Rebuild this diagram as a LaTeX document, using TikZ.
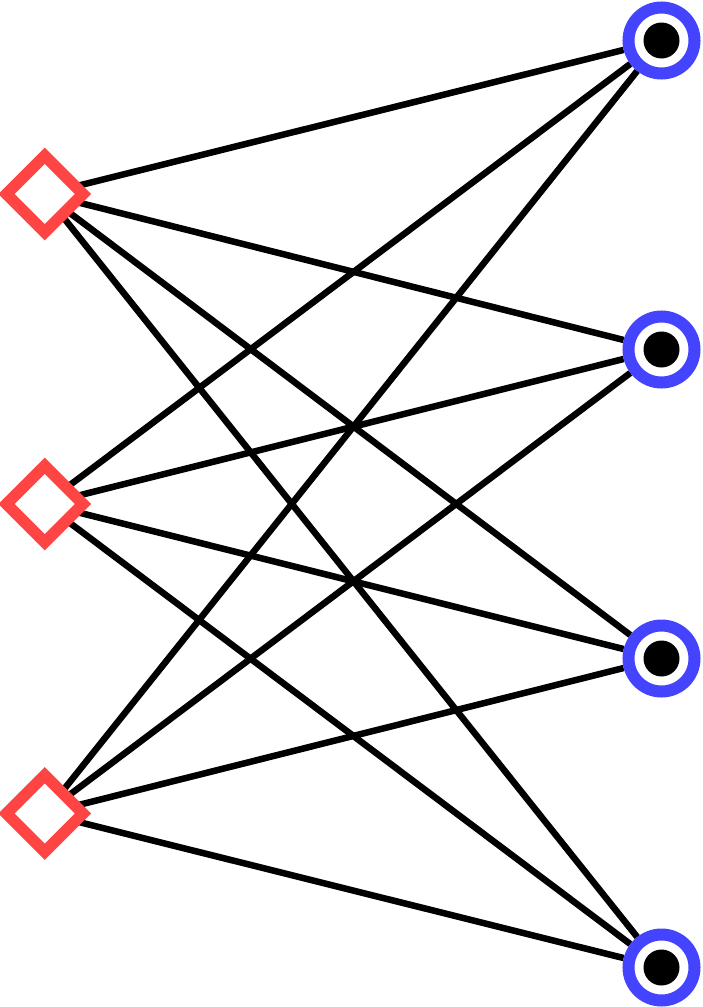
\documentclass[tikz,border=0pt]{standalone}
\usetikzlibrary{calc}
\pgfdeclarelayer{bg}
\pgfsetlayers{bg,main}
\definecolor{dred}{RGB}{255,68,68}
\definecolor{cblue}{RGB}{68,68,255}
\begin{document}
\begin{tikzpicture}[x=1pt,y=-1pt,
  diapath/.style={draw=dred,line width=11.5pt,fill=white,line join=miter},
  ring/.style={circle,draw=cblue,line width=12pt,fill=white,inner sep=0pt,minimum size=66pt},
  dot/.style={circle,fill=black,inner sep=0pt,minimum size=36pt},
  edge/.style={line width=6.5pt,black}]
\useasboundingbox (0,0) rectangle (702,1007);
\coordinate (d1) at (44.7,194);
\coordinate (d2) at (44.7,504);
\coordinate (d3) at (44.7,813.5);
\foreach \d in {d1,d2,d3}
  \path[diapath] ($(\d)+(-38.3,0)$) -- ($(\d)+(0,-38.3)$) -- ($(\d)+(38.3,0)$) -- ($(\d)+(0,38.3)$) -- cycle;
\node[ring] (c1) at (661.5,40.5) {};
\node[ring] (c2) at (661.5,349.5) {};
\node[ring] (c3) at (661.5,658.5) {};
\node[ring] (c4) at (661.5,967.5) {};
\foreach \c in {c1,c2,c3,c4} {\node[dot] (\c dot) at (\c) {};}
\begin{pgfonlayer}{bg}
\foreach \d in {d1,d2,d3}
  \foreach \c in {c1,c2,c3,c4}
    \draw[edge] (\d) -- (\c);
\end{pgfonlayer}
\end{tikzpicture}
\end{document}
